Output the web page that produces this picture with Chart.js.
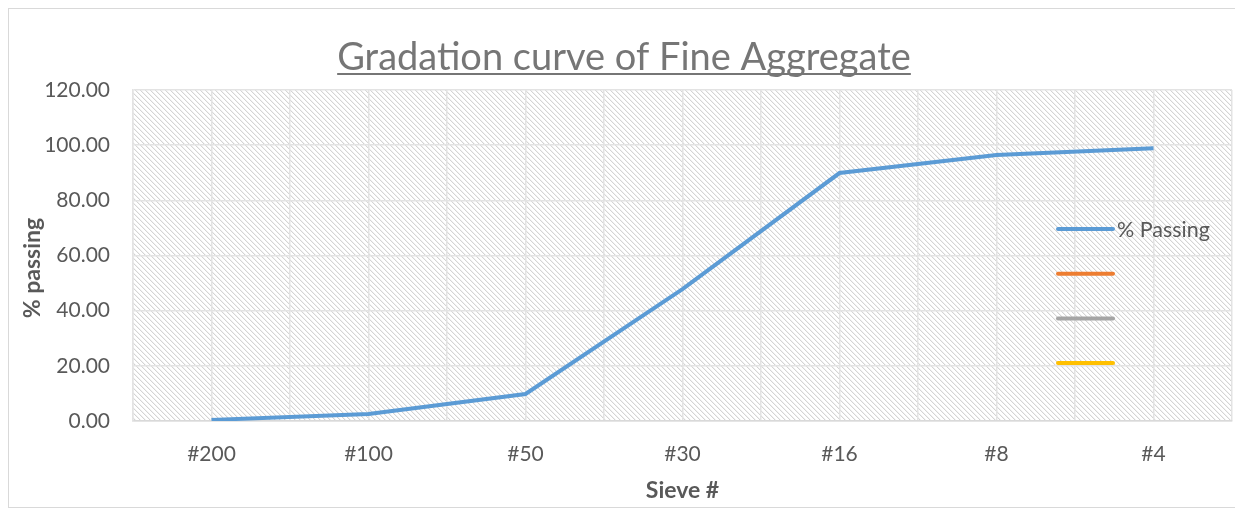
<!DOCTYPE html>
<html>
<head>
<meta charset="utf-8">
<script src="https://cdn.jsdelivr.net/npm/chart.js@4.4.1/dist/chart.umd.min.js"></script>
<style>
  html, body { margin: 0; padding: 0; background: #ffffff; }
  #wrap { width: 1235px; height: 508px; position: relative; }
</style>
</head>
<body>
<div id="wrap"><canvas id="c" width="1235" height="508"></canvas></div>
<script>
// Sieve sizes and cumulative percent passing
const sieves = ['#200', '#100', '#50', '#30', '#16', '#8', '#4'];
const passing = [0.4, 2.5, 9.8, 47.8, 89.9, 96.4, 98.9];
const yTicks = [0, 20, 40, 60, 80, 100, 120];

const seriesNames = ['% Passing', '', '', ''];
const seriesColors = ['#5B9BD5', '#ED7D31', '#A5A5A5', '#FFC000'];

const FONT = 'Lato, "Open Sans", sans-serif';
const TEXT = '#595959';

// Diagonal hatch used as the plot-area fill
function makeHatch() {
  const n = 5;
  const t = document.createElement('canvas');
  t.width = n; t.height = n;
  const g = t.getContext('2d');
  const img = g.createImageData(n, n);
  for (let y = 0; y < n; y++) {
    for (let x = 0; x < n; x++) {
      const d = ((x - y) % n + n) % n;
      let v = 255;
      if (d === 0) v = 212;
      else if (d === 1) v = 242;
      const k = (y * n + x) * 4;
      img.data[k] = v; img.data[k + 1] = v; img.data[k + 2] = v; img.data[k + 3] = 255;
    }
  }
  g.putImageData(img, 0, 0);
  return t;
}

const framePlugin = {
  id: 'frame',
  beforeDraw(chart) {
    const ctx = chart.ctx;
    const a = chart.chartArea;
    ctx.save();
    ctx.fillStyle = '#ffffff';
    ctx.fillRect(0, 0, chart.width, chart.height);
    // outer chart border
    ctx.strokeStyle = '#d9d9d9';
    ctx.lineWidth = 1;
    ctx.strokeRect(8.5, 8.5, chart.width, chart.height - 9);
    // hatched plot area
    ctx.fillStyle = ctx.createPattern(makeHatch(), 'repeat');
    ctx.fillRect(a.left, a.top, a.right - a.left, a.bottom - a.top);
    ctx.restore();
  },
  afterDraw(chart) {
    const ctx = chart.ctx;
    const a = chart.chartArea;
    ctx.save();
    // title, underlined
    const title = 'Gradation curve of Fine Aggregate';
    ctx.font = '38px ' + FONT;
    ctx.fillStyle = '#767676';
    ctx.textAlign = 'center';
    ctx.textBaseline = 'alphabetic';
    const cx = 624, by = 70;
    ctx.fillText(title, cx, by);
    const w = ctx.measureText(title).width;
    ctx.fillRect(cx - w / 2, by + 3, w, 2);

    // vertical axis title
    ctx.save();
    ctx.translate(33, 268);
    ctx.rotate(-Math.PI / 2);
    ctx.font = 'bold 23px ' + FONT;
    ctx.fillStyle = TEXT;
    ctx.textAlign = 'center';
    ctx.textBaseline = 'middle';
    ctx.fillText('% passing', 0, 0);
    ctx.restore();

    // legend drawn over the right side of the plot area
    const lx0 = a.right - 174, lx1 = a.right - 119;
    const ly0 = 229, step = 44.7;
    chart.data.datasets.forEach((ds, i) => {
      const y = ly0 + i * step;
      ctx.strokeStyle = ds.borderColor;
      ctx.lineWidth = 4;
      ctx.lineCap = 'round';
      ctx.beginPath();
      ctx.moveTo(lx0, y);
      ctx.lineTo(lx1, y);
      ctx.stroke();
      if (ds.label) {
        ctx.font = '21.5px ' + FONT;
        ctx.fillStyle = TEXT;
        ctx.textAlign = 'left';
        ctx.textBaseline = 'middle';
        ctx.fillText(ds.label, lx1 + 4, y + 1);
      }
    });
    ctx.restore();
  }
};

const datasets = seriesNames.map((name, i) => ({
  label: name,
  data: i === 0 ? sieves.map((s, k) => ({ x: k, y: passing[k] })) : [],
  borderColor: seriesColors[i],
  backgroundColor: seriesColors[i],
  borderWidth: 4,
  pointRadius: 0,
  tension: 0,
  fill: false
}));

new Chart(document.getElementById('c'), {
  type: 'line',
  data: { datasets },
  plugins: [framePlugin],
  options: {
    responsive: false,
    animation: false,
    layout: { padding: { top: 90, right: 3, bottom: 0, left: 0 } },
    plugins: {
      legend: { display: false },
      title: { display: false },
      tooltip: { enabled: false }
    },
    scales: {
      x: {
        type: 'linear',
        min: -0.5,
        max: sieves.length - 0.5,
        afterBuildTicks(scale) {
          const t = [];
          for (let v = -0.5; v <= sieves.length - 0.5 + 1e-9; v += 0.5) t.push({ value: v });
          scale.ticks = t;
        },
        afterFit(scale) {
          scale.height = 87;
          scale.paddingLeft = 0;
          scale.paddingRight = 0;
        },
        grid: { color: '#e3e3e3', lineWidth: 1.5, drawTicks: false },
        border: { color: '#d9d9d9', width: 1.5 },
        ticks: {
          autoSkip: false,
          maxRotation: 0,
          padding: 21,
          color: TEXT,
          font: { family: FONT, size: 21 },
          callback: v => Number.isInteger(v) ? sieves[v] : ''
        },
        title: {
          display: true,
          text: 'Sieve #',
          color: TEXT,
          font: { family: FONT, size: 23, weight: 'bold' },
          padding: { top: 4, bottom: 4 }
        }
      },
      y: {
        min: yTicks[0],
        max: yTicks[yTicks.length - 1],
        afterBuildTicks(scale) { scale.ticks = yTicks.map(v => ({ value: v })); },
        afterFit(scale) {
          scale.width = 133;
          scale.paddingTop = 0;
          scale.paddingBottom = 0;
        },
        grid: { color: '#e3e3e3', lineWidth: 1.5, drawTicks: false },
        border: { color: '#e3e3e3', width: 1.5 },
        ticks: {
          padding: 23,
          color: TEXT,
          font: { family: FONT, size: 21 },
          callback: v => Number(v).toFixed(2)
        },
        title: { display: false }
      }
    }
  }
});
</script>
</body>
</html>
